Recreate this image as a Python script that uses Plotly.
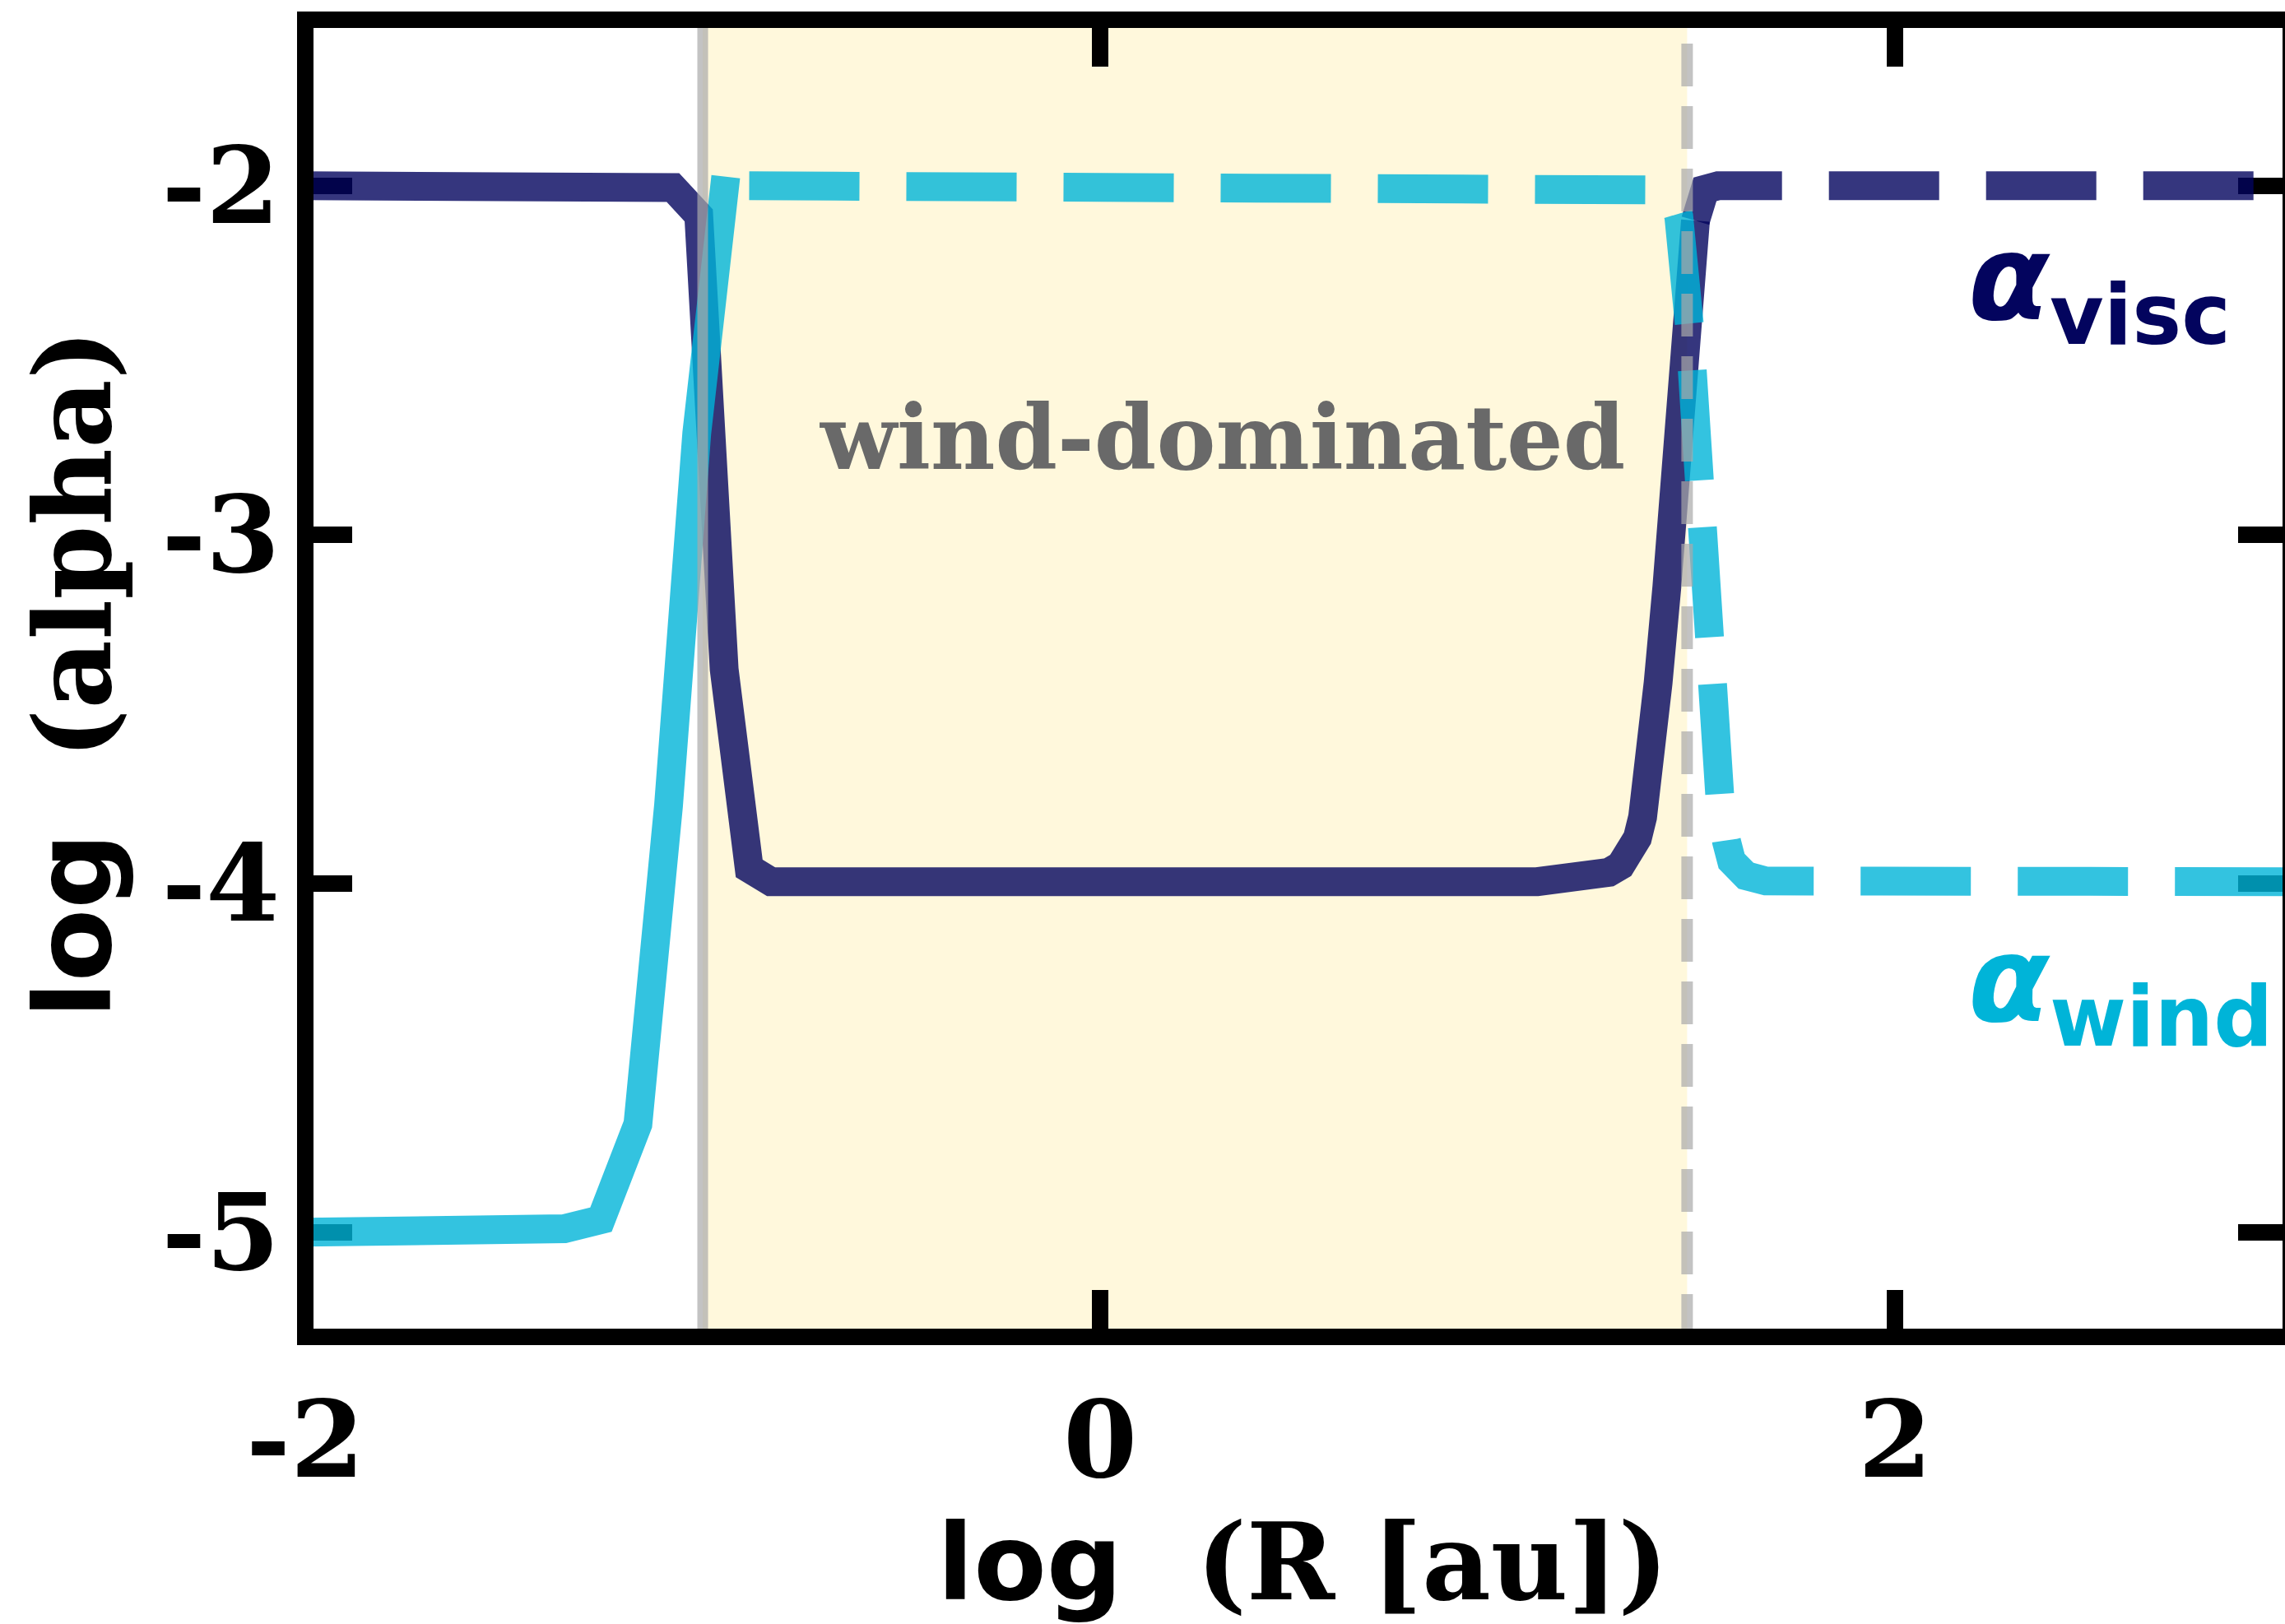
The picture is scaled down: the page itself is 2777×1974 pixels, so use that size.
import plotly.graph_objects as go

# ---------------- data ----------------
visc_solid_x = [-2.0, -1.161, -1.075, -1.010, -0.946, -0.883, -0.828, 1.10, 1.18, 1.24, 1.28,
                1.31, 1.335, 1.352, 1.365, 1.375, 1.386, 1.404, 1.426, 1.438, 1.461, 1.484, 1.498]
visc_solid_y = [-2.0, -2.0, -2.005, -2.085, -3.386, -3.957, -3.995, -3.995, -3.99, -3.982, -3.968,
                -3.948, -3.915, -3.87, -3.81, -3.74, -3.66, -3.425, -3.15, -2.953, -2.599, -2.285, -2.10]

visc_dash_x = [1.498, 1.507, 1.522, 1.555, 3.0]
visc_dash_y = [-2.10, -2.045, -2.01, -2.0, -2.0]

wind_solid_x = [-2.0, -1.45, -1.348, -1.256, -1.163, -1.086, -1.015, -0.942]
wind_solid_y = [-5.0, -5.0, -4.99, -4.964, -4.69, -3.777, -2.71, -1.974]

wind_dash_x = [-0.883, 1.3768, 1.4161, 1.4449, 1.456, 1.4824, 1.4886, 1.5031, 1.512, 1.530,
               1.5369, 1.559, 1.5762, 1.5889, 1.6253, 1.675, 3.0]
wind_dash_y = [-2.0, -2.0, -2.012, -2.045, -2.088, -2.396, -2.535, -2.847, -2.984, -3.296,
               -3.436, -3.747, -3.88, -3.936, -3.978, -3.993, -3.995]

r_inner = -1.0          # log R of inner boundary
r_outer = 1.477         # log R of outer boundary (30 au)

x_ticks = [-2, 0, 2]
x_ticktext = ["-2", "0", "2"]
y_ticks = [-2, -3, -4, -5]
y_ticktext = ["-2", "-3", "-4", "-5"]

# ---------------- styling ----------------
W, H = 2777, 1974
ML, MR, MT, MB = 371, 0, 24, 349
PW = W - ML - MR
PH = H - MT - MB
XMIN = -2.0
XMAX = XMIN + PW / 483.0
YMIN, YMAX = -5.30, -1.524

VISC = "rgba(3,4,94,0.8)"
WIND = "rgba(0,180,216,0.8)"
LW = 35
DASH = "134px,57px"

fig = go.Figure()
fig.add_trace(go.Scatter(x=visc_solid_x, y=visc_solid_y, mode="lines",
                         line=dict(color=VISC, width=LW), hoverinfo="skip"))
fig.add_trace(go.Scatter(x=visc_dash_x, y=visc_dash_y, mode="lines",
                         line=dict(color=VISC, width=LW, dash=DASH), hoverinfo="skip"))
fig.add_trace(go.Scatter(x=wind_solid_x, y=wind_solid_y, mode="lines",
                         line=dict(color=WIND, width=LW), hoverinfo="skip"))
fig.add_trace(go.Scatter(x=wind_dash_x, y=wind_dash_y, mode="lines",
                         line=dict(color=WIND, width=LW, dash=DASH), hoverinfo="skip"))

shapes = []
# shaded wind-dominated region
shapes.append(dict(type="rect", xref="x", yref="paper", x0=r_inner, x1=r_outer, y0=0, y1=1,
                   fillcolor="#fff8dc", line=dict(width=0), layer="below"))
# boundary lines
shapes.append(dict(type="line", xref="x", yref="paper", x0=r_inner, x1=r_inner, y0=0, y1=1,
                   line=dict(color="rgba(169,169,169,0.7)", width=13), layer="above"))
shapes.append(dict(type="line", xref="x", yref="paper", x0=r_outer, x1=r_outer, y0=0, y1=1,
                   line=dict(color="rgba(169,169,169,0.7)", width=14, dash="52px,24px"),
                   layer="above"))
# spines
ex = 10.0 / PW
ey = 10.0 / PH
shapes.append(dict(type="line", xref="paper", yref="paper", x0=0, x1=0, y0=-ey, y1=1 + ey,
                   line=dict(color="black", width=20), layer="above"))
shapes.append(dict(type="line", xref="paper", yref="paper", x0=-ex, x1=1, y0=0, y1=0,
                   line=dict(color="black", width=20), layer="above"))
shapes.append(dict(type="line", xref="paper", yref="paper", x0=-ex, x1=1, y0=1, y1=1,
                   line=dict(color="black", width=20), layer="above"))
shapes.append(dict(type="line", xref="paper", yref="paper", x0=1, x1=1, y0=0, y1=1,
                   line=dict(color="black", width=6), layer="above"))

tickfont = dict(family="DejaVu Serif", size=129, color="black", weight="bold")

fig.update_layout(
    width=W, height=H,
    margin=dict(l=ML, r=MR, t=MT, b=MB, pad=0),
    paper_bgcolor="white", plot_bgcolor="white",
    showlegend=False,
    shapes=shapes,
    xaxis=dict(range=[XMIN, XMAX], tickvals=x_ticks, ticktext=x_ticktext,
               ticks="inside", ticklen=57, tickwidth=20, tickcolor="black",
               mirror="ticks", showline=False, showgrid=False, zeroline=False,
               tickfont=tickfont, layer="below traces", automargin=False,
               ticklabelstandoff=40),
    yaxis=dict(range=[YMIN, YMAX], tickvals=y_ticks, ticktext=y_ticktext,
               ticks="inside", ticklen=57, tickwidth=20, tickcolor="black",
               mirror="ticks", showline=False, showgrid=False, zeroline=False,
               tickfont=tickfont, layer="below traces", automargin=False,
               ticklabelstandoff=30),
)

title_font = dict(family="DejaVu Serif", size=129, color="black")
fig.add_annotation(text="<b><span style='font-family:DejaVu Sans'>log</span>\u00a0\u00a0(R [au])</b>",
                   xref="x", yref="paper", x=0.51, y=(PH + MT - 1898) / PH,
                   xanchor="center", yanchor="middle", showarrow=False, font=title_font)
fig.add_annotation(text="<b><span style='font-family:DejaVu Sans'>log</span>\u00a0\u00a0(alpha)</b>",
                   xref="paper", yref="y", x=(88.5 - ML) / PW, y=-3.399, textangle=-90,
                   xanchor="center", yanchor="middle", showarrow=False, font=title_font)
fig.add_annotation(text="<b>wind-dominated</b>", xref="x", yref="y", x=0.308, y=-2.723,
                   xanchor="center", yanchor="middle", showarrow=False,
                   font=dict(family="DejaVu Serif", size=108, color="#696969"))
fig.add_annotation(text="<b><i>α</i><sub>visc</sub></b>", xref="x", yref="y", x=2.18, y=-2.287,
                   xanchor="left", yanchor="middle", showarrow=False,
                   font=dict(family="DejaVu Sans", size=144, color="#03045e"))
fig.add_annotation(text="<b><i>α</i><sub>wind</sub></b>", xref="x", yref="y", x=2.18, y=-4.300,
                   xanchor="left", yanchor="middle", showarrow=False,
                   font=dict(family="DejaVu Sans", size=144, color="#00b4d8"))

fig.write_html("out.html",
               config={"displayModeBar": False},
               post_script="document.body.style.margin='0px';"
                           "document.body.style.padding='0px';"
                           "document.body.style.overflow='hidden';")
